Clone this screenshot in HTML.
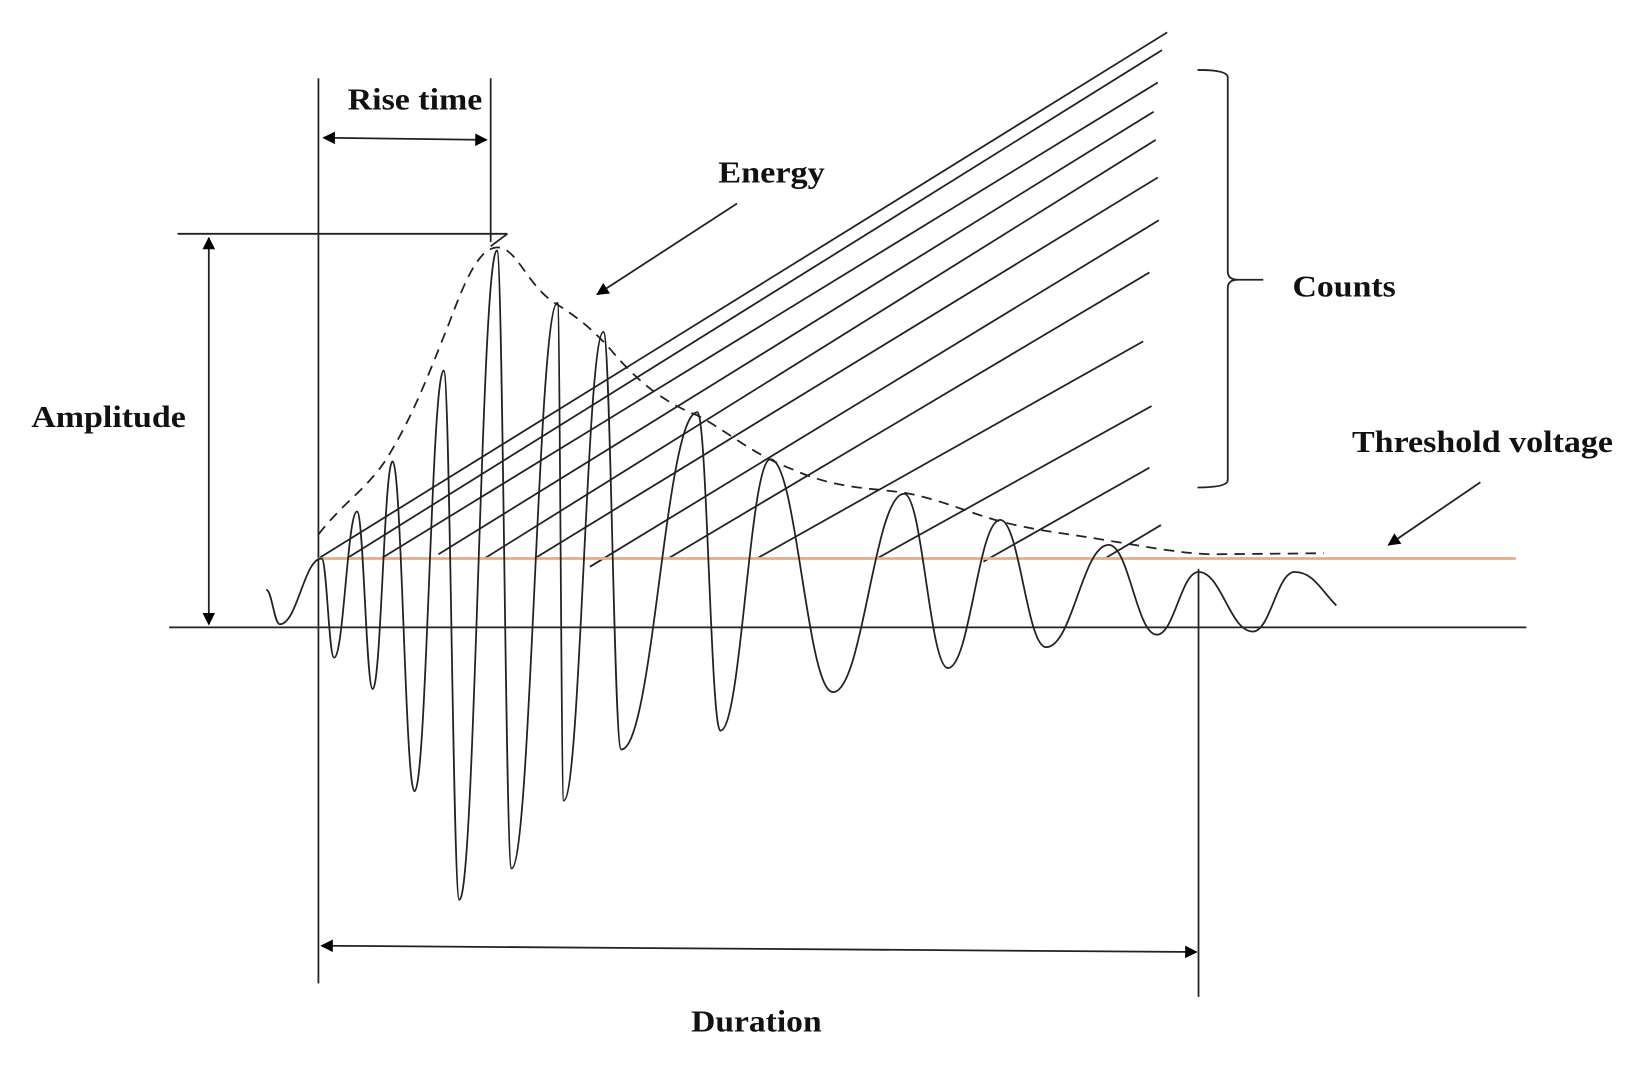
<!DOCTYPE html>
<html><head><meta charset="utf-8"><style>
html,body{margin:0;padding:0;background:#fff;}
svg{display:block;}
text{font-family:"Liberation Serif",serif;font-weight:bold;fill:#111;}
</style></head><body>
<svg width="1637" height="1071" viewBox="0 0 1568 1026" preserveAspectRatio="none" xmlns="http://www.w3.org/2000/svg">
<defs>
<marker id="a" viewBox="0 0 10 10" refX="9" refY="5" markerWidth="14" markerHeight="12" markerUnits="userSpaceOnUse" orient="auto-start-reverse"><path d="M0,0 L10,5 L0,10 z" fill="#000"/></marker>
</defs>
<g stroke="#222" stroke-width="1.7" fill="none">
<line x1="162" y1="601" x2="1462" y2="601"/>
<line x1="305" y1="75" x2="305" y2="942"/>
<line x1="470" y1="75" x2="470" y2="232"/>
<line x1="1148" y1="545" x2="1148" y2="955"/>
<line x1="170" y1="224" x2="486" y2="224"/>
<line x1="486" y1="224" x2="470" y2="236"/>
<line x1="200" y1="228" x2="200" y2="598" marker-start="url(#a)" marker-end="url(#a)"/>
<line x1="310" y1="132" x2="466" y2="134" marker-start="url(#a)" marker-end="url(#a)"/>
<line x1="308" y1="906" x2="1146" y2="912" marker-start="url(#a)" marker-end="url(#a)"/>
<line x1="706" y1="195" x2="572" y2="282" marker-end="url(#a)"/>
<line x1="1418" y1="462" x2="1330" y2="522" marker-end="url(#a)"/>
<path d="M1147,67 Q1176,67 1176,74 L1176,260 Q1176,268 1186,268 L1210,268 M1186,268 Q1176,268 1176,276 L1176,460 Q1176,467 1147,467"/>
<line x1="305" y1="535" x2="1118" y2="31"/>
<line x1="332" y1="535" x2="1113" y2="48"/>
<line x1="365" y1="535" x2="1109" y2="79"/>
<line x1="420" y1="531" x2="1105" y2="107"/>
<line x1="464" y1="535" x2="1107" y2="134"/>
<line x1="512" y1="535" x2="1109" y2="170"/>
<line x1="565" y1="543" x2="1110" y2="211"/>
<line x1="640" y1="535" x2="1101" y2="261"/>
<line x1="725" y1="535" x2="1095" y2="327"/>
<line x1="840" y1="535" x2="1103" y2="389"/>
<line x1="942" y1="538" x2="1101" y2="448"/>
<line x1="1060" y1="534" x2="1112" y2="503"/>
</g>
<line x1="305" y1="535" x2="1452" y2="535" stroke="#f4a77a" stroke-width="2.6"/>
<path d="M305,512 C330,480 350,470 370,440 C395,400 410,360 430,310 C445,270 458,238 476,237 C495,236 505,275 534,292 C555,305 570,318 585,335 C610,365 635,385 668,398 C700,415 720,435 760,450 C800,468 830,467 866,472 C900,478 930,492 960,500 C1000,510 1030,512 1062,518 C1100,524 1130,530 1160,531 L1268,530" fill="none" stroke="#222" stroke-width="1.7" stroke-dasharray="10,7"/>
<path id="w" fill="none" stroke="#222" stroke-width="1.7" d=""/>
<g font-size="29">
<text x="333" y="105" textLength="129" lengthAdjust="spacingAndGlyphs">Rise time</text>
<text x="688" y="175" textLength="102" lengthAdjust="spacingAndGlyphs">Energy</text>
<text x="1238" y="284" textLength="99" lengthAdjust="spacingAndGlyphs">Counts</text>
<text x="30" y="409" textLength="148" lengthAdjust="spacingAndGlyphs">Amplitude</text>
<text x="1295" y="433" textLength="250" lengthAdjust="spacingAndGlyphs">Threshold voltage</text>
<text x="662" y="988" textLength="125" lengthAdjust="spacingAndGlyphs">Duration</text>
</g>
</svg>
<script>
var p=[[255,565],[268,598],[308,535],[320,630],[342,490],[357,660],[376,442],[397,758],[425,355],[440,862],[476,240],[490,832],[534,290],[540,767],[578,318],[595,718],[668,395],[690,700],[738,440],[798,663],[866,473],[908,640],[958,498],[1002,620],[1062,522],[1108,608],[1148,548],[1200,605],[1240,548]];
var d="M"+p[0][0]+","+p[0][1];
for(var i=1;i<p.length;i++){var a=p[i-1],b=p[i],dx=b[0]-a[0],k=0.42;d+=" C"+(a[0]+k*dx)+","+a[1]+" "+(b[0]-k*dx)+","+b[1]+" "+b[0]+","+b[1];}
d+=" C1258,548 1265,565 1280,580";
document.getElementById("w").setAttribute("d",d);
</script>
</body></html>
